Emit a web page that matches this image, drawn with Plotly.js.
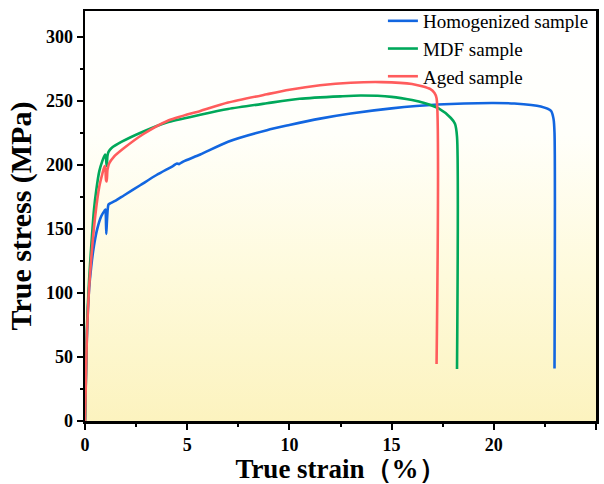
<!DOCTYPE html>
<html>
<head>
<meta charset="utf-8">
<script src="https://cdn.plot.ly/plotly-3.0.1.min.js"></script>
<style>html,body{margin:0;padding:0;background:#fff;}#chart{width:604px;height:484px;}</style>
</head>
<body>
<div id="chart"></div>
<script>
// ---- data ----
const seriesNames = ["Homogenized sample", "MDF sample", "Aged sample"];

const homStrain = [0, 0.05, 0.1, 0.2, 0.3, 0.44, 0.6, 0.8, 0.95, 1.0, 1.02, 1.04, 1.08, 1.15, 1.25, 1.5, 1.9, 2.7, 3.5, 4.3, 4.5, 4.6, 4.8, 5.64, 7, 8.9, 10, 11.5, 13, 15, 17.25, 19.9, 21, 22.3, 22.8, 22.92, 22.97, 22.97];
const homStress = [0, 38, 70, 103, 120, 137, 150, 160, 164, 165, 160, 146, 158, 169, 170, 172, 176, 184, 192, 199, 201, 200.5, 202.5, 208, 218, 227, 231, 236, 240, 244, 247, 248.2, 247.8, 245.5, 242, 236, 225, 41];

const mdfStrain = [0, 0.05, 0.1, 0.2, 0.3, 0.44, 0.55, 0.7, 0.85, 0.98, 1.02, 1.06, 1.1, 1.15, 1.3, 1.8, 2.86, 4, 5.64, 7, 8.9, 10.5, 12.5, 13.5, 15, 16, 16.6, 17.3, 17.9, 18.1, 18.2, 18.2];
const mdfStress = [0, 40, 75, 110, 135, 165, 180, 195, 203, 208, 206, 199, 207, 210, 213, 218, 226, 233, 239, 243.5, 248, 251.5, 253.4, 254, 253, 250.5, 248.2, 244, 236.5, 232, 222, 40.6];

const agedStrain = [0, 0.05, 0.1, 0.2, 0.3, 0.5, 0.7, 0.85, 0.96, 1.0, 1.03, 1.06, 1.1, 1.18, 1.4, 1.91, 2.86, 4, 5.64, 7, 8.9, 10, 11.5, 13, 14.5, 16, 16.9, 17.1, 17.2, 17.2];
const agedStress = [0, 36, 70, 104, 126, 160, 183, 193, 199, 196, 188, 187, 196, 201, 206, 213, 224, 234, 242, 248.5, 255, 258.5, 262, 264, 264.5, 263, 259, 256, 252, 44.5];

const xTickVals = [0, 5, 10, 15, 20, 25];
const yTickVals = [0, 50, 100, 150, 200, 250, 300];

const colors = ["#1266E0", "#00A85A", "#FF5C5C"];

const lineStyle = (c) => ({color: c, width: 2.6, shape: "spline", smoothing: 0.7});
const traces = [
  {x: homStrain, y: homStress, name: seriesNames[0], mode: "lines", line: lineStyle(colors[0])},
  {x: mdfStrain, y: mdfStress, name: seriesNames[1], mode: "lines", line: lineStyle(colors[1])},
  {x: agedStrain, y: agedStress, name: seriesNames[2], mode: "lines", line: lineStyle(colors[2])}
];

const svg = "<svg xmlns='http://www.w3.org/2000/svg' width='100' height='100' preserveAspectRatio='none'>" +
  "<defs><linearGradient id='g' x1='0' y1='0' x2='0' y2='1'>" +
  "<stop offset='0' stop-color='#ffffff'/><stop offset='0.3' stop-color='#fffffa'/>" +
  "<stop offset='0.65' stop-color='#fefadb'/><stop offset='1' stop-color='#fcf3bf'/>" +
  "</linearGradient></defs><rect width='100' height='100' fill='url(#g)'/></svg>";
const bgUri = "data:image/svg+xml;base64," + btoa(svg);

const serif = "Liberation Serif, Times New Roman, serif";

const layout = {
  width: 604, height: 484,
  margin: {l: 85, r: 8, t: 11, b: 63, autoexpand: false},
  paper_bgcolor: "#ffffff",
  plot_bgcolor: "rgba(0,0,0,0)",
  font: {family: serif, color: "#000"},
  showlegend: true,
  legend: {
    x: 0.583, y: 1.022, xanchor: "left", yanchor: "top",
    bgcolor: "rgba(0,0,0,0)", borderwidth: 0,
    font: {family: serif, size: 19, color: "#000"},
    tracegroupgap: 0
  },
  images: [{
    source: bgUri, xref: "paper", yref: "paper", x: 0, y: 1,
    sizex: 1, sizey: 1, sizing: "stretch", layer: "below", xanchor: "left", yanchor: "top"
  }],
  xaxis: {
    range: [0, 25], tickvals: xTickVals, ticktext: xTickVals.map(String),
    showgrid: false, zeroline: false,
    showline: true, linecolor: "#000", linewidth: 2.5, mirror: true,
    ticks: "outside", ticklen: 6, tickwidth: 2, tickcolor: "#000",
    minor: {dtick: 2.5, ticks: "outside", ticklen: 3, tickwidth: 2, tickcolor: "#000", showgrid: false},
    tickfont: {family: serif, size: 18, color: "#000", weight: "bold"},
    title: {text: "True strain（%）", font: {family: serif, size: 27, color: "#000", weight: "bold"}, standoff: 6}
  },
  yaxis: {
    range: [0, 320], tickvals: yTickVals, ticktext: yTickVals.map(String),
    showgrid: false, zeroline: false,
    showline: true, linecolor: "#000", linewidth: 2.5, mirror: true,
    ticks: "outside", ticklen: 6, tickwidth: 2, tickcolor: "#000",
    minor: {dtick: 25, ticks: "outside", ticklen: 3, tickwidth: 2, tickcolor: "#000", showgrid: false},
    tickfont: {family: serif, size: 18, color: "#000", weight: "bold"},
    title: {text: "True stress (MPa)", font: {family: serif, size: 30, color: "#000", weight: "bold"}, standoff: 6}
  }
};

Plotly.newPlot("chart", traces, layout, {staticPlot: true, displayModeBar: false});
</script>
</body>
</html>
